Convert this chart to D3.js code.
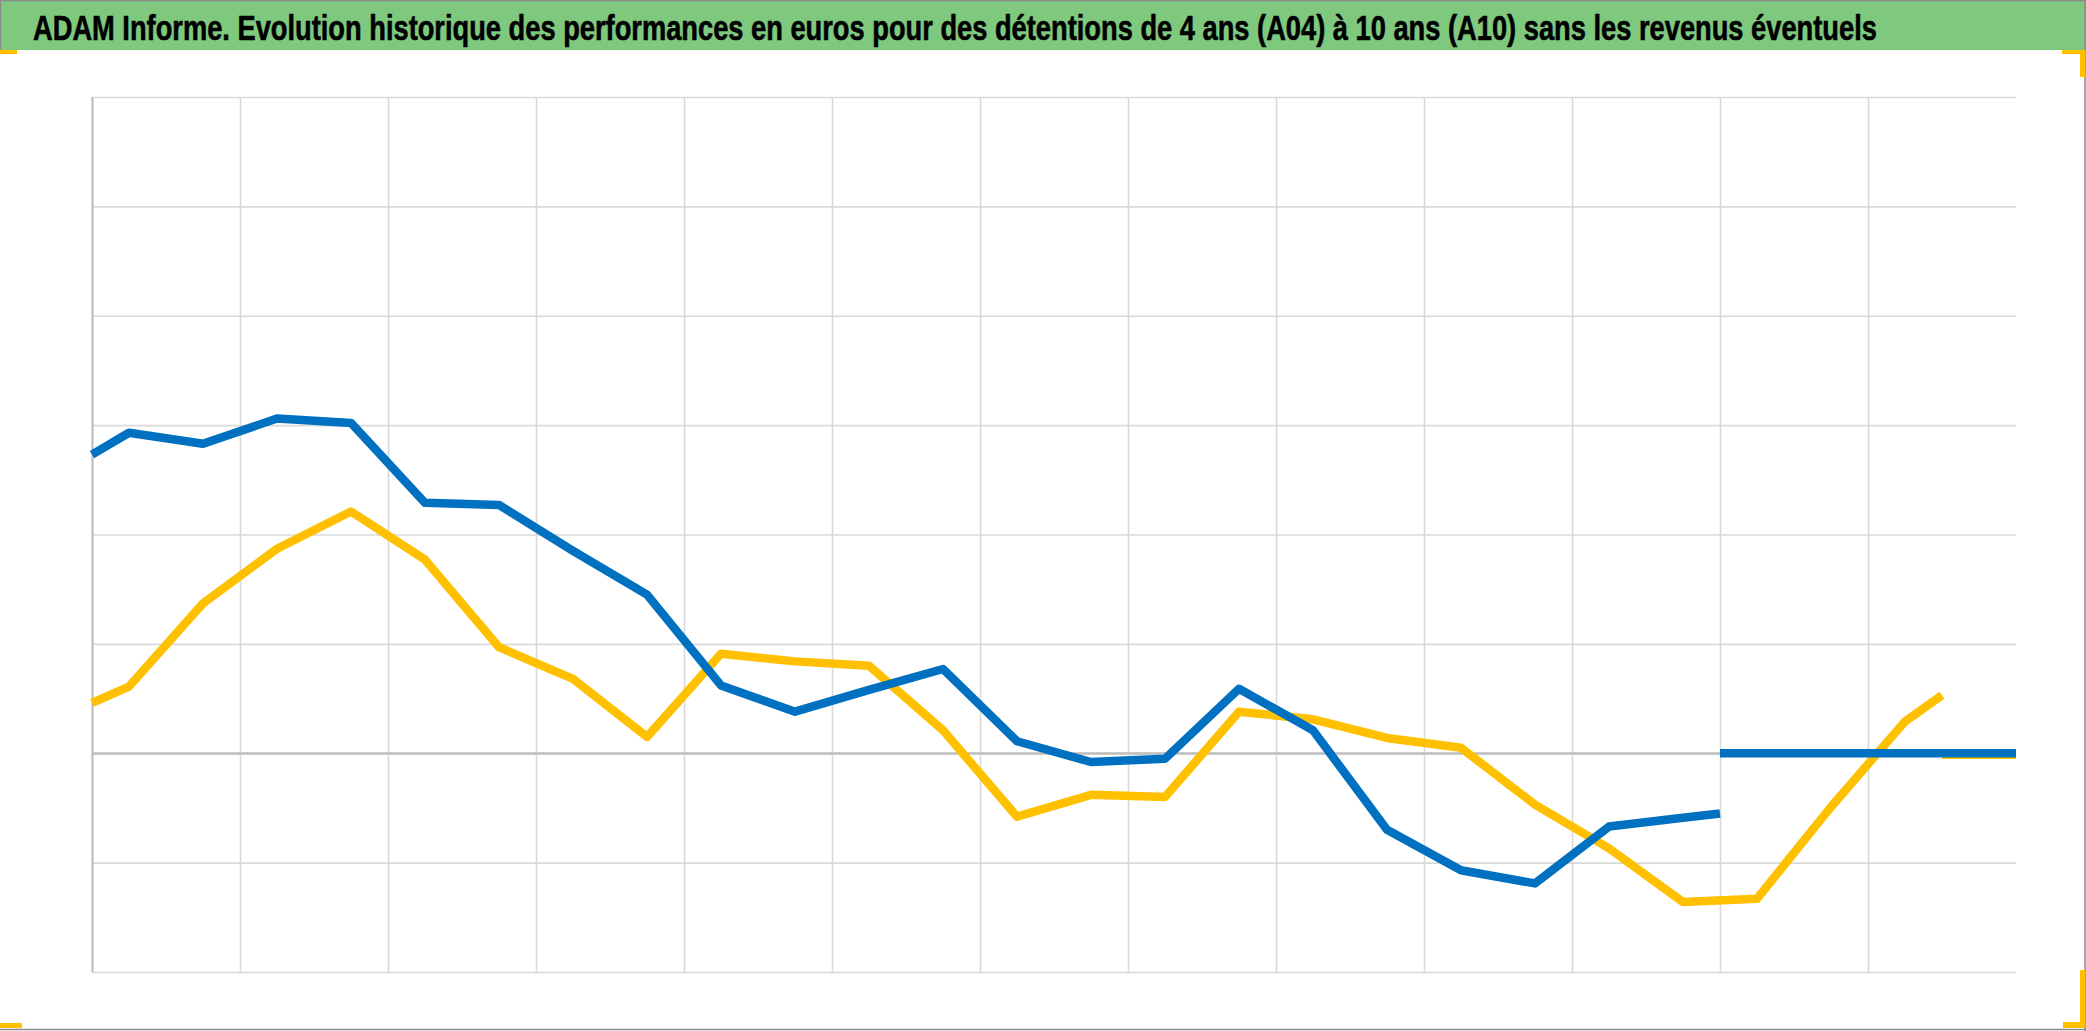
<!DOCTYPE html>
<html>
<head>
<meta charset="utf-8">
<script src="https://cdn.jsdelivr.net/npm/d3@7"></script>
<style>
  html, body { margin: 0; padding: 0; background: #ffffff; }
  svg { display: block; }
</style>
</head>
<body>
<div id="chart"></div>
<script>
// ---------- data ----------
const titleText = "ADAM Informe. Evolution historique des performances en euros pour des détentions de 4 ans (A04) à 10 ans (A10) sans les revenus éventuels";

// x positions (half-column units along the time axis)
const a10X = [0, 0.5, 1.5, 2.5, 3.5, 4.5, 5.5, 6.5, 7.5, 8.5, 9.5, 10.5, 11.5, 12.5, 13.5, 14.5, 15.5, 16.5, 17.5, 18.5, 19.5, 20.5, 21.5, 22];
const a10Values = [27.3, 29.3, 28.3, 30.6, 30.2, 22.9, 22.7, 18.5, 14.5, 6.2, 3.8, 5.8, 7.7, 1.1, -0.8, -0.5, 5.9, 2.1, -7.0, -10.7, -11.9, -6.7, -5.9, -5.5];

const a04X = [0, 0.5, 1.5, 2.5, 3.5, 4.5, 5.5, 6.5, 7.5, 8.5, 9.5, 10.5, 11.5, 12.5, 13.5, 14.5, 15.5, 16.5, 17.5, 18.5, 19.5, 20.5, 21.5, 22.5, 23.5, 24.5, 25];
const a04Values = [4.6, 6.1, 13.7, 18.7, 22.1, 17.7, 9.7, 6.8, 1.5, 9.1, 8.4, 8.0, 2.1, -5.8, -3.8, -4.0, 3.8, 3.1, 1.4, 0.5, -4.7, -8.7, -13.6, -13.3, -4.9, 2.9, 5.3];

// trailing zero segments (no data)
const a10TailX = [22, 26];
const a10TailValues = [0, 0];
const a04TailX = [25, 26];
const a04TailValues = [0, 0];

const yTicks = [-20, -10, 0, 10, 20, 30, 40, 50, 60];
const xGridTicks = [0, 2, 4, 6, 8, 10, 12, 14, 16, 18, 20, 22, 24];

// ---------- layout ----------
const W = 2086, H = 1031;
const plot = { left: 92, right: 2016, top: 97, bottom: 972 };

const svg = d3.select("#chart").append("svg")
  .attr("width", W).attr("height", H);

svg.append("rect").attr("x", 0).attr("y", 0).attr("width", W).attr("height", H).attr("fill", "#ffffff");

// title band
svg.append("rect").attr("x", 0).attr("y", 0).attr("width", W).attr("height", 50).attr("fill", "#7fc97f");
svg.append("line").attr("x1", 0).attr("x2", W).attr("y1", 0.5).attr("y2", 0.5).attr("stroke", "#8a8a8a").attr("stroke-width", 1.5);
svg.append("line").attr("x1", 0.5).attr("x2", 0.5).attr("y1", 0).attr("y2", 50).attr("stroke", "#8a8a8a").attr("stroke-width", 1.5);

// title: measure natural width, then compress horizontally to fit the band
const titleG = svg.append("g");
const title = titleG.append("text")
  .attr("x", 0).attr("y", 0)
  .attr("font-family", "'Liberation Sans Narrow', 'Liberation Sans', Arial, sans-serif")
  .attr("font-weight", "bold")
  .attr("font-size", 35)
  .attr("fill", "#000000")
  .attr("stroke", "#000000")
  .attr("stroke-width", 0.6)
  .text(titleText);
const naturalW = title.node().getComputedTextLength() || 1845;
const sx = 1845 / naturalW;
titleG.attr("transform", `translate(33,40) scale(${sx},1)`);

// outer border (right and bottom)
svg.append("line").attr("x1", W - 1).attr("x2", W - 1).attr("y1", 0).attr("y2", H).attr("stroke", "#8a8a8a").attr("stroke-width", 1.5);
svg.append("line").attr("x1", 0).attr("x2", W).attr("y1", 1029.5).attr("y2", 1029.5).attr("stroke", "#8a8a8a").attr("stroke-width", 1.5);

// selection handles (yellow)
const handles = svg.append("g").attr("fill", "#ffc000");
handles.append("rect").attr("x", 0).attr("y", 50).attr("width", 17).attr("height", 4);
handles.append("rect").attr("x", 2062).attr("y", 50).attr("width", 23).attr("height", 4);
handles.append("rect").attr("x", 2080).attr("y", 50).attr("width", 5).attr("height", 27);
handles.append("rect").attr("x", 0).attr("y", 1023).attr("width", 22).attr("height", 5);
handles.append("rect").attr("x", 2063).attr("y", 1022).attr("width", 22).attr("height", 6);
handles.append("rect").attr("x", 2080).attr("y", 970).attr("width", 5).attr("height", 58);

// ---------- scales ----------
const x = d3.scaleLinear().domain([0, 26]).range([plot.left, plot.right]);
const y = d3.scaleLinear().domain([-20, 60]).range([plot.bottom, plot.top]);

// horizontal gridlines via axis
const gy = svg.append("g")
  .attr("transform", `translate(${plot.left},0)`)
  .call(d3.axisLeft(y).tickValues(yTicks).tickSize(-(plot.right - plot.left)).tickFormat(""));
gy.select(".domain").remove();
gy.selectAll(".tick line")
  .attr("stroke", d => d === 0 ? "#bfbfbf" : "#d9d9d9")
  .attr("stroke-width", d => d === 0 ? 2.2 : 1.6);

// vertical gridlines via axis
const gx = svg.append("g")
  .attr("transform", `translate(0,${plot.bottom})`)
  .call(d3.axisBottom(x).tickValues(xGridTicks).tickSize(-(plot.bottom - plot.top)).tickFormat(""));
gx.select(".domain").remove();
gx.selectAll(".tick line")
  .attr("stroke", d => d === 0 ? "#bfbfbf" : "#d9d9d9")
  .attr("stroke-width", d => d === 0 ? 2.2 : 1.6);

// redraw zero line on top of vertical grid
svg.append("line")
  .attr("x1", plot.left).attr("x2", plot.right)
  .attr("y1", y(0)).attr("y2", y(0))
  .attr("stroke", "#bfbfbf").attr("stroke-width", 2.2);

// ---------- lines ----------
const line = d3.line().x(d => x(d[0])).y(d => y(d[1]));
const zip = (xs, vs) => xs.map((v, i) => [v, vs[i]]);

const series = [
  { xs: a04TailX, vs: a04TailValues, color: "#ffc000", dy: 1.5 },
  { xs: a04X, vs: a04Values, color: "#ffc000", dy: 0 },
  { xs: a10X, vs: a10Values, color: "#0070c0", dy: 0 },
  { xs: a10TailX, vs: a10TailValues, color: "#0070c0", dy: 0 }
];

svg.append("g").selectAll("path")
  .data(series)
  .join("path")
  .attr("d", s => line(zip(s.xs, s.vs)))
  .attr("transform", s => `translate(0,${s.dy})`)
  .attr("fill", "none")
  .attr("stroke", s => s.color)
  .attr("stroke-width", 8.5)
  .attr("stroke-linejoin", "round")
  .attr("stroke-linecap", "butt");
</script>
</body>
</html>
